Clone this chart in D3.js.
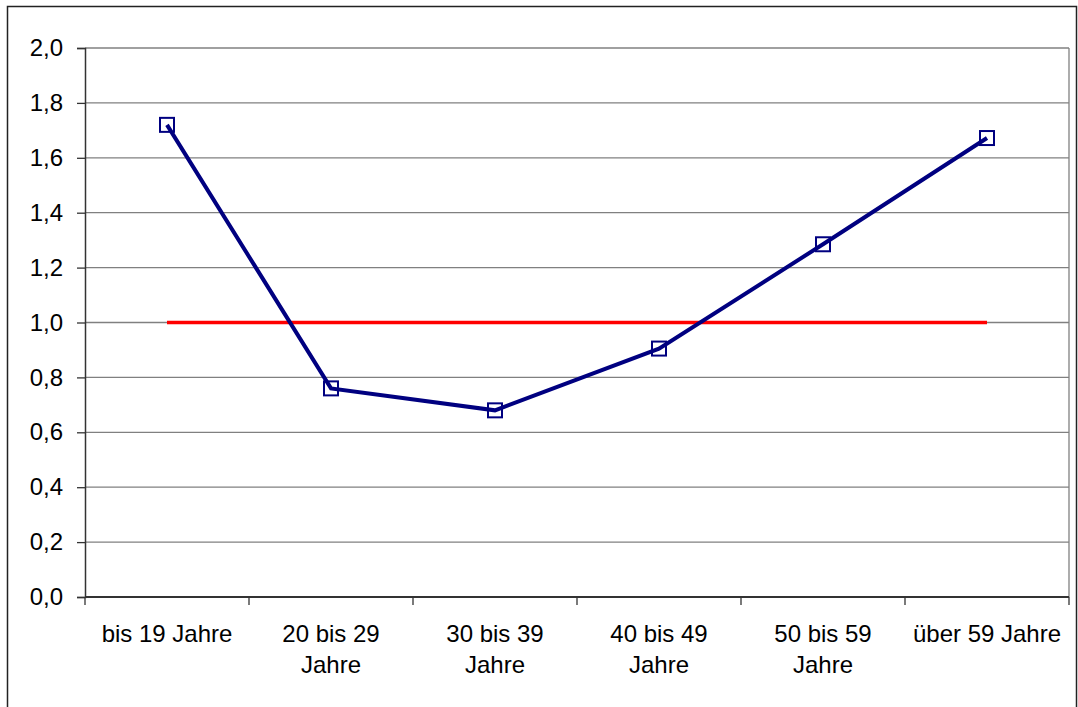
<!DOCTYPE html>
<html><head><meta charset="utf-8">
<script src="https://cdn.jsdelivr.net/npm/d3@7"></script>
<style>body{margin:0;background:#fff}svg{display:block}text{font-family:"Liberation Sans",Arial,sans-serif;fill:#000}</style>
</head><body>
<svg id="c" width="1078" height="707"></svg>
<script>
const categories = [["bis 19 Jahre"],["20 bis 29","Jahre"],["30 bis 39","Jahre"],["40 bis 49","Jahre"],["50 bis 59","Jahre"],["über 59 Jahre"]];
const values = [1.72, 0.76, 0.68, 0.905, 1.285, 1.672];
const reference = [1.0, 1.0, 1.0, 1.0, 1.0, 1.0];
const yTicks = [0,0.2,0.4,0.6,0.8,1.0,1.2,1.4,1.6,1.8,2.0];

const svg = d3.select("#c");
const L=85, R=1069, T=48, B=597;
const x = d3.scaleBand().domain(d3.range(categories.length)).range([L,R]);
const y = d3.scaleLinear().domain([0,2]).range([B,T]);
const fmt = d => d3.format(".1f")(d).replace(".",",");
const FS = "24px";

// outer border
svg.append("rect").attr("x",7.5).attr("y",6.5).attr("width",1069).attr("height",720)
  .attr("fill","none").attr("stroke","#222").attr("stroke-width",1.5);

// gridlines
svg.append("g").selectAll("line").data(yTicks.filter(d=>d>0)).join("line")
  .attr("x1",L).attr("x2",R).attr("y1",d=>y(d)).attr("y2",d=>y(d))
  .attr("stroke","#808080").attr("stroke-width",1.3);
// right border of plot
svg.append("line").attr("x1",R).attr("x2",R).attr("y1",T).attr("y2",B).attr("stroke","#808080").attr("stroke-width",1.3);

// y axis
const ya = svg.append("g").attr("transform",`translate(${L},0)`)
  .call(d3.axisLeft(y).tickValues(yTicks).tickFormat(fmt).tickSize(8).tickPadding(14));
ya.select(".domain").attr("stroke","#333").attr("stroke-width",1.5);
ya.selectAll(".tick line").attr("stroke","#333").attr("stroke-width",1.3);
ya.selectAll("text").attr("font-size",FS).attr("font-family","Liberation Sans, Arial, sans-serif").attr("fill","#000");

// x axis
const xa = svg.append("g").attr("transform",`translate(0,${B})`);
xa.append("line").attr("x1",L).attr("x2",R).attr("stroke","#333").attr("stroke-width",2);
const edges = d3.range(categories.length+1).map(i=> i<categories.length ? x(i) : R);
xa.selectAll("line.t").data(edges).join("line").attr("class","t")
  .attr("x1",d=>d).attr("x2",d=>d).attr("y1",0).attr("y2",8).attr("stroke","#333").attr("stroke-width",1.3);
xa.selectAll("text.l").data(categories).join("text").attr("class","l")
  .attr("text-anchor","middle").attr("font-size",FS)
  .attr("transform",(d,i)=>`translate(${x(i)+x.bandwidth()/2},45)`)
  .selectAll("tspan").data(d=>d).join("tspan").attr("x",0).attr("dy",(d,j)=>j===0?0:31).text(d=>d);

const cx = i => x(i)+x.bandwidth()/2;
const line = d3.line().x((d,i)=>cx(i)).y(d=>y(d));

svg.append("path").datum(reference).attr("d",line).attr("fill","none").attr("stroke","#ff0000").attr("stroke-width",3.5);
svg.append("path").datum(values).attr("d",line).attr("fill","none").attr("stroke","#000080").attr("stroke-width",4);
svg.append("g").selectAll("rect").data(values).join("rect")
  .attr("x",(d,i)=>cx(i)-7).attr("y",d=>y(d)-7).attr("width",14).attr("height",14)
  .attr("fill","none").attr("stroke","#000080").attr("stroke-width",2);
</script>
</body></html>
